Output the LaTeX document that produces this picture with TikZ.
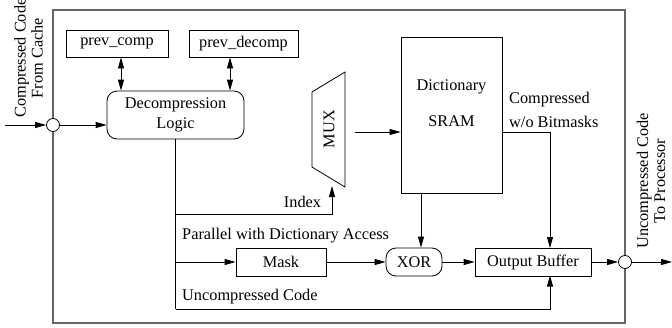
\documentclass[tikz,border=0pt]{standalone}
\usepackage{fontspec}
\setmainfont{Liberation Serif}
\usetikzlibrary{arrows.meta}
\begin{document}
\begin{tikzpicture}[x=1pt,y=-1pt,
  every node/.style={font=\fontsize{16.3}{19.5}\selectfont, inner sep=0pt},
  line/.style={line width=0.8pt, draw=black},
  arr/.style={line, -{Triangle[length=11pt,width=6pt]}},
  darr/.style={line, {Triangle[length=11pt,width=6pt]}-{Triangle[length=11pt,width=6pt]}},
  box/.style={line, rectangle},
  rbox/.style={line, rectangle, rounded corners=10pt},
  junction/.style={line, circle, minimum size=13pt, fill=white},
  sidetext/.style={rotate=90, align=center, font=\fontsize{16.3}{17}\selectfont},
  lbl/.style={anchor=west}]
\useasboundingbox (0,0) rectangle (672,327);
% outer frame
\draw[draw=black!60, line width=1.2pt] (53,10) rectangle (625,323);
% boxes
\node[box, minimum width=102pt, minimum height=27pt] (pc) at (117,43.5) {prev\_comp};
\node[box, minimum width=109pt, minimum height=27pt] (pd) at (243.5,43.5) {prev\_decomp};
\node[rbox, minimum width=137pt, minimum height=48pt, align=center] (dec) at (175.5,115) {Decompression\\Logic};
\node[box, minimum width=101pt, minimum height=156pt] (dict) at (451.5,115) {};
\node (dictt) at (451.5,87) {Dictionary};
\node (sram) at (451.5,121) {SRAM};
\node[box, minimum width=90pt, minimum height=28pt] (mask) at (281,262) {Mask};
\node[rbox, minimum width=56pt, minimum height=28pt] (xor) at (414,262) {XOR};
\node[box, minimum width=116pt, minimum height=28pt] (ob) at (533,262) {Output Buffer};
% MUX
\draw[line] (312,92) -- (345,72) -- (345,187) -- (312,167) -- cycle;
\node[rotate=90] (mux) at (329,129) {MUX};
% junctions
\node[junction] (jin) at (53,125) {};
\node[junction] (jout) at (625,262) {};
% side texts
\node[sidetext] (intext) at (28.5,58) {Compressed Code\\From Cache};
\node[sidetext] (outtext) at (651,181) {Uncompressed Code\\To Processor};
% coordinates
\coordinate (src) at (5,125);
\coordinate (dst) at (672,262);
\coordinate (muxout) at (355,132);
\coordinate (ti) at (175.5,214);
\coordinate (tm) at (175.5,262);
\coordinate (tb) at (175.5,309);
\coordinate (muxin) at (332,186);
\coordinate (obtop) at (550,248);
\coordinate (obbot) at (550,275.5);
\coordinate (dictout) at (502,132);
% connectors
\draw[arr] (src) -- (jin.west);
\draw[arr] (jin.east) -- (dec.west |- jin);
\draw[darr] (pc.south -| 121,0) -- (dec.north -| 121,0);
\draw[darr] (pd.south -| 230,0) -- (dec.north -| 230,0);
\draw[arr] (muxout) -- (dict.west |- muxout);
\draw[line] (dec.south) -- (tb);
\draw[arr] (ti) -| (muxin);
\draw[arr] (tm) -- (mask.west);
\draw[arr] (tb) -| (obbot);
\draw[arr] (mask.east) -- (xor.west);
\draw[arr] (dict.south -| 421,0) -- (xor.north -| 421,0);
\draw[arr] (xor.east) -- (ob.west);
\draw[arr] (dictout) -| (obtop);
\draw[arr] (ob.east) -- (jout.west);
\draw[arr] (jout.east) -- (dst);
% labels
\node[anchor=center] (idx) at (302.5,202) {Index};
\node[lbl] (par) at (182,236) {Parallel with Dictionary Access};
\node[lbl] (unc) at (182,297) {Uncompressed Code};
\node[lbl] (cmp1) at (509,100) {Compressed};
\node[lbl] (cmp2) at (509,122) {w/o Bitmasks};
\end{tikzpicture}
\end{document}
